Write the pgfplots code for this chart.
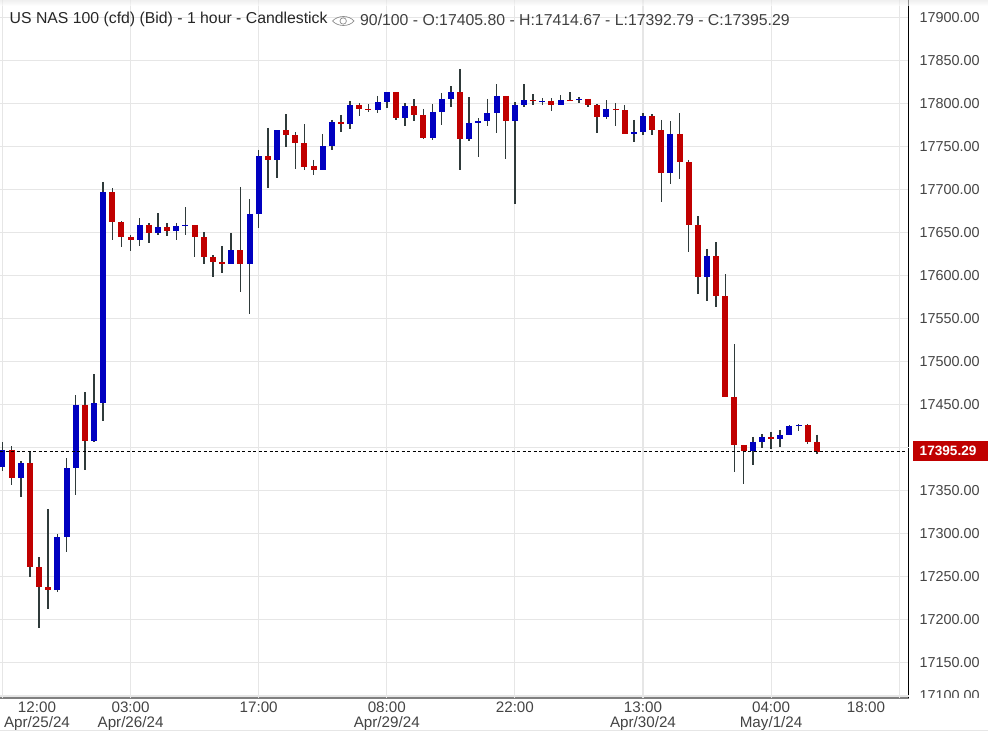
\documentclass[border=0pt]{standalone}
\usepackage{pgfplots}
\usepackage{pgfplotstable}
\usepackage{fontspec}
\setmainfont{Liberation Sans}
\pgfplotsset{compat=1.18}
\definecolor{cblue}{HTML}{0000C0}
\definecolor{cred}{HTML}{C00000}
\definecolor{wick}{HTML}{2F3A3A}
\definecolor{gridc}{HTML}{E6E6E6}
\definecolor{txt}{HTML}{444444}
\pgfplotstableread{
i O H L C
0 17377.4 17405.8 17372.4 17396.9
2 17364.6 17384.1 17342.5 17381.7
6 17234.1 17299.2 17231.7 17295.7
7 17295.7 17387.5 17278.2 17375.9
8 17375.9 17460.8 17344.5 17449.2
10 17407.3 17485.2 17406.1 17451.5
11 17451.5 17708.5 17430.6 17696.8
15 17641.0 17666.6 17634.1 17658.5
17 17649.2 17672.4 17646.8 17656.1
19 17651.5 17660.8 17641.0 17657.3
20 17657.3 17679.4 17646.8 17658.5
25 17613.1 17649.2 17613.1 17629.4
27 17613.1 17688.7 17555.0 17671.3
28 17671.3 17745.7 17655.0 17738.7
30 17734.1 17768.9 17713.1 17768.9
35 17722.4 17764.3 17722.4 17750.3
36 17750.3 17780.6 17745.7 17778.2
38 17775.9 17802.7 17770.1 17798.0
41 17792.2 17808.5 17788.7 17801.5
42 17801.5 17813.1 17794.5 17813.1
44 17782.9 17800.3 17773.6 17796.8
47 17759.6 17799.2 17757.3 17789.9
48 17789.9 17812.0 17774.8 17805.0
49 17805.0 17820.1 17795.7 17813.1
51 17758.5 17807.3 17756.1 17777.1
52 17777.1 17782.9 17737.5 17779.4
53 17779.4 17805.0 17773.6 17788.7
54 17788.7 17822.4 17765.4 17808.5
56 17779.4 17801.5 17682.9 17798.0
57 17798.0 17822.4 17795.7 17803.8
59 17801.5 17806.1 17798.0 17802.7
61 17798.0 17809.6 17798.0 17803.8
63 17803.8 17807.3 17800.3 17805.0
66 17784.1 17803.8 17781.7 17793.4
69 17764.3 17780.6 17755.0 17766.6
70 17766.6 17788.7 17763.1 17785.2
73 17718.9 17779.4 17706.1 17764.3
77 17598.0 17630.6 17570.1 17622.4
82 17395.7 17412.0 17379.4 17406.2
83 17406.2 17415.4 17399.2 17412.0
85 17409.6 17420.1 17400.3 17414.3
86 17414.3 17425.9 17414.3 17424.8
87 17424.8 17427.1 17418.9 17425.9
}\bluetable
\pgfplotstableread{
i O H L C
1 17396.9 17401.5 17356.2 17364.6
3 17381.7 17395.7 17249.5 17260.8
4 17260.8 17272.4 17190.2 17237.9
5 17237.5 17328.2 17212.3 17234.1
9 17449.2 17464.3 17373.6 17407.3
12 17696.8 17701.5 17641.0 17662.0
13 17662.0 17663.1 17632.9 17644.5
14 17644.5 17646.8 17628.2 17641.0
16 17658.5 17660.8 17637.5 17649.2
18 17656.1 17660.8 17645.7 17651.5
21 17658.5 17658.5 17621.3 17644.5
22 17644.5 17650.3 17613.1 17621.3
23 17621.3 17623.6 17598.0 17615.5
24 17615.5 17634.1 17602.7 17613.1
26 17629.4 17702.7 17580.6 17613.1
29 17738.7 17771.3 17701.5 17734.1
31 17768.9 17787.5 17749.2 17763.1
32 17763.1 17766.6 17723.6 17753.8
33 17753.8 17775.9 17722.4 17725.9
34 17727.1 17734.1 17716.6 17722.4
37 17778.2 17786.4 17766.6 17775.9
39 17798.0 17800.3 17785.2 17793.4
40 17793.4 17799.2 17789.9 17792.2
43 17813.1 17813.1 17780.6 17782.9
45 17796.8 17805.0 17779.4 17786.4
46 17786.4 17793.4 17758.5 17759.6
50 17813.1 17839.9 17722.4 17758.5
55 17808.5 17808.5 17735.2 17779.4
58 17803.8 17810.8 17798.0 17802.7
60 17802.7 17806.1 17791.0 17798.0
62 17803.8 17813.1 17802.7 17802.7
64 17805.0 17805.0 17795.7 17798.0
65 17798.0 17799.2 17765.4 17784.1
67 17793.4 17800.3 17773.6 17792.2
68 17792.2 17798.0 17764.3 17764.3
71 17785.2 17787.5 17763.1 17768.9
72 17768.9 17780.6 17685.2 17718.9
74 17764.3 17788.7 17712.0 17731.7
75 17731.7 17734.1 17627.1 17658.5
76 17658.5 17668.9 17578.2 17598.0
78 17622.4 17638.7 17563.1 17575.9
79 17575.9 17601.5 17458.5 17458.5
80 17458.5 17520.1 17371.3 17402.7
81 17402.7 17402.7 17357.3 17395.7
84 17412.0 17417.8 17398.0 17409.6
88 17425.9 17427.1 17403.8 17406.2
89 17405.80 17414.67 17392.79 17395.29
}\redtable
\pgfplotsset{
  wicks/.style={draw=none, mark=none, forget plot,
    error bars/.cd, y dir=minus, y explicit, error mark=none,
    error bar style={line width=1.5pt, color=wick, line cap=butt}},
  bodies/.style 2 args={draw=none, mark=none, forget plot,
    error bars/.cd, y dir=#1, y explicit, error mark=none,
    error bar style={line width=6pt, color=#2, line cap=butt}},
}
\begin{document}
\begin{tikzpicture}[x=1pt,y=1pt]
\path[use as bounding box] (0,0) rectangle (988,732);
\begin{axis}[
  at={(0pt,34.5pt)}, anchor=south west,
  scale only axis, width=908.5pt, height=697.5pt,
  xmin=-0.27, xmax=99.02,
  ymin=17109.07, ymax=17920.12,
  axis x line=bottom, axis y line=right,
  x axis line style={-, draw=gray, line width=2pt},
  y axis line style={-, draw=black, line width=1.2pt},
  xmajorgrids=false, ymajorgrids=true,
  grid style={draw=gridc, line width=1.1pt},
  major tick length=0pt,
  xtick={3.77,14,28,42,56,70,84,94.37},
  xticklabels={{12:00\\Apr/25/24},{03:00\\Apr/26/24},{17:00},{08:00\\Apr/29/24},{22:00},{13:00\\Apr/30/24},{04:00\\May/1/24},{18:00}},
  extra x ticks={0,14,28,42,56,70,84,98},
  extra x tick labels={},
  extra x tick style={grid=major},
  x tick label style={align=center, font=\fontsize{15.2}{15}\selectfont, text=txt, inner sep=0pt, yshift=-4pt},
  scaled y ticks=false,
  ytick={17150,17200,17250,17300,17350,17450,17500,17550,17600,17650,17700,17750,17800,17850,17900},
  extra y ticks={17110.8,17400},
  extra y tick labels={17100.00,},
  extra y tick style={grid=major},
  y tick label style={font=\fontsize{14.4}{15}\selectfont, text=txt, inner sep=0pt, xshift=11pt},
  /pgf/number format/fixed,
  /pgf/number format/fixed zerofill,
  /pgf/number format/precision=2,
  /pgf/number format/1000 sep={},
  /pgf/number format/assume math mode=true,
]
\addplot[wicks] table[x=i, y=H, y error expr=\thisrow{H}-\thisrow{L}] {\bluetable};
\addplot[wicks] table[x=i, y=H, y error expr=\thisrow{H}-\thisrow{L}] {\redtable};
\addplot[bodies={minus}{cblue}] table[x=i, y=C, y error expr=\thisrow{C}-\thisrow{O}+0.4] {\bluetable};
\addplot[bodies={minus}{cred}] table[x=i, y=O, y error expr=\thisrow{O}-\thisrow{C}+0.4] {\redtable};
\addplot[black, line width=0.9pt, dash pattern=on 3pt off 2.5pt, forget plot] coordinates {(-0.27,17395.29) (99.02,17395.29)};
\end{axis}
% mask below the axis at the right, clipping the lowest price label
\fill[white] (909.5,0) rectangle (988,34);
% price tag
\fill[cred] (913,271) rectangle (988,291.3);
\node[anchor=west, inner sep=0pt, text=white, font=\fontsize{13.6}{15}\selectfont\bfseries] at (919.5,281) {17395.29};
% top shade and bottom edge
\shade[top color=black!10, bottom color=white, opacity=0.6] (0,726) rectangle (988,732);
\draw[gridc, line width=1pt] (0,1.3) -- (988,1.3);
% header
\node[anchor=west, inner sep=0pt, text=black!85, font=\fontsize{15.8}{16}\selectfont] at (9.5,712.5) {US NAS 100 (cfd) (Bid) - 1 hour - Candlestick};
\draw[black!45, line width=0.7pt] (332.5,711) .. controls (338,717) and (349,717) .. (354,711) .. controls (349,705) and (338,705) .. (332.5,711) -- cycle;
\draw[black!45, line width=0.7pt] (343.2,711) circle (3.2);
\node[anchor=west, inner sep=0pt, text=black!75, font=\fontsize{15.8}{16}\selectfont] at (360,712.5) {90/100 - O:17405.80 - H:17414.67 - L:17392.79 - C:17395.29};
\end{tikzpicture}
\end{document}
